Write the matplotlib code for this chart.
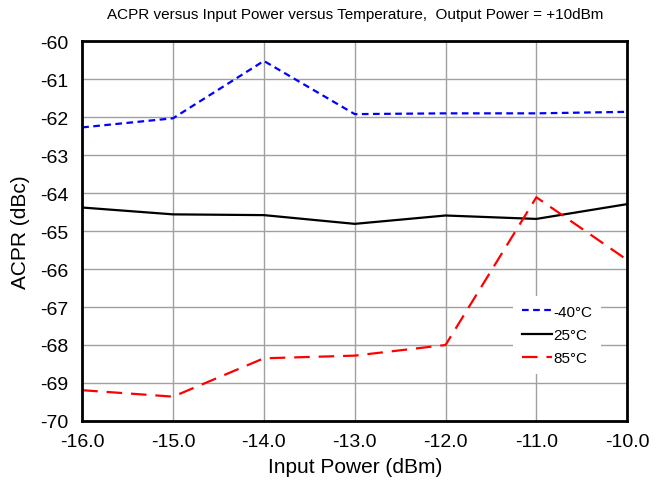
import matplotlib.pyplot as plt

plt.rcParams['font.family'] = ['Liberation Sans', 'DejaVu Sans']
plt.rcParams['axes.unicode_minus'] = False

## Input power sweep (dBm)
pin = [-16.0, -15.0, -14.0, -13.0, -12.0, -11.0, -10.0]

## ACPR (dBc) at each temperature
acpr_m40 = [-62.27, -62.03, -60.52, -61.92, -61.90, -61.90, -61.86]
acpr_25 = [-64.38, -64.56, -64.58, -64.81, -64.59, -64.68, -64.29]
acpr_85 = [-69.19, -69.36, -68.35, -68.28, -68.00, -64.11, -65.76]

labels = ['-40\u00b0C', '25\u00b0C', '85\u00b0C']

fig = plt.figure(figsize=(6.63, 4.85), dpi=100)
ax = fig.add_axes([0.124, 0.130, 0.822, 0.783])

ax.plot(pin, acpr_m40, color='#0000ff', lw=1.6, ls=(0, (3, 2)), label=labels[0])
ax.plot(pin, acpr_25, color='black', lw=1.6, label=labels[1])
ax.plot(pin, acpr_85, color='#ff0000', lw=1.6, ls=(0, (7, 4)), label=labels[2])

ax.set_xlim(-16, -10)
ax.set_ylim(-70, -60)
ax.set_xticks(pin)
ax.set_xticklabels(['%.1f' % p for p in pin])
ax.set_yticks(range(-70, -59))
ax.tick_params(length=0, labelsize=14)
ax.tick_params(axis='x', pad=9)
ax.tick_params(axis='y', pad=10)
ax.grid(True, color='#a0a0a0', lw=1)
for s in ax.spines.values():
    s.set_linewidth(2)

ax.set_xlabel('Input Power (dBm)', fontsize=15, labelpad=5)
ax.set_ylabel('ACPR (dBc)', fontsize=15, labelpad=7)
ax.set_title('ACPR versus Input Power versus Temperature,  Output Power = +10dBm',
             fontsize=11, pad=17)

leg = ax.legend(loc='upper left', bbox_to_anchor=(0.79, 0.33), frameon=True,
                fontsize=11, handlelength=2.0, handletextpad=0.05,
                labelspacing=0.6, borderaxespad=0, borderpad=0.6)
leg.get_frame().set_edgecolor('none')
leg.get_frame().set_facecolor('white')
leg.get_frame().set_alpha(1)
leg.get_frame().set_boxstyle('square', pad=0)

fig.savefig('out.png', dpi=100)
